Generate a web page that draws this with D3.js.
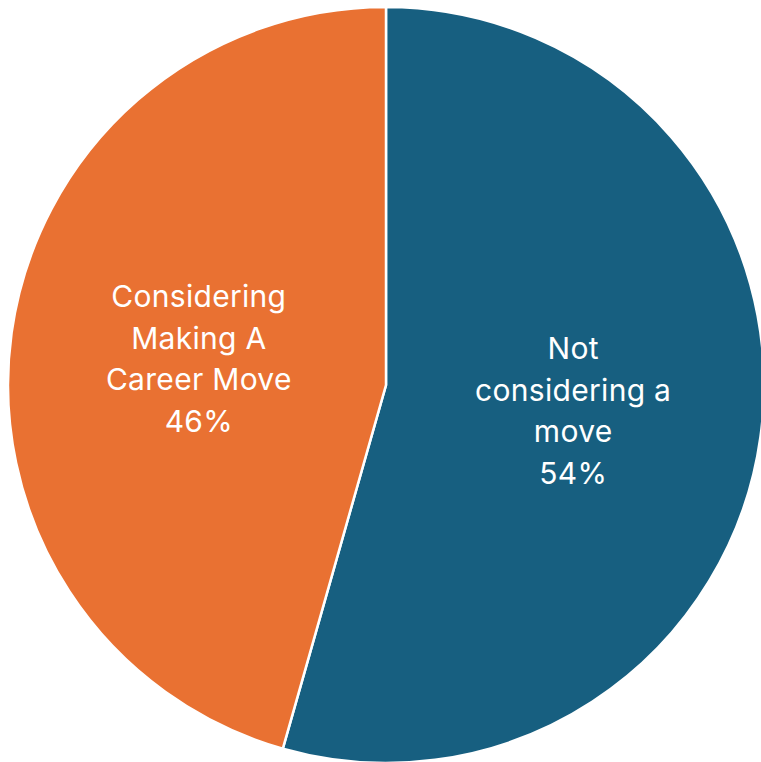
<!DOCTYPE html>
<html>
<head>
<meta charset="utf-8">
<script src="https://cdn.jsdelivr.net/npm/d3@7"></script>
<style>
  html, body { margin: 0; padding: 0; background: #ffffff; }
  svg { display: block; }
</style>
</head>
<body>
<svg id="chart" width="761" height="762"></svg>
<script>
// Data
const categories = ["Not considering a move", "Considering Making A Career Move"];
const labelLines = [["Not", "considering a", "move"], ["Considering", "Making A", "Career Move"]];
const values = [0.544, 0.456];
const colors = ["#175F80", "#E97132"];

const svg = d3.select("#chart");
const cx = 386, cy = 385, r = 378;

const pie = d3.pie().sort(null).value(d => d.value);
const data = categories.map((c, i) => ({ name: c, value: values[i], lines: labelLines[i], color: colors[i] }));
const arcs = pie(data);
const arc = d3.arc().innerRadius(0).outerRadius(r);

const g = svg.append("g").attr("transform", `translate(${cx},${cy})`);

g.selectAll("path.slice")
  .data(arcs)
  .join("path")
  .attr("class", "slice")
  .attr("d", arc)
  .attr("fill", d => d.data.color)
  .attr("stroke", "#ffffff")
  .attr("stroke-width", 2.5)
  .attr("stroke-linejoin", "miter");

const fmt = d3.format(".0%");
const lineH = 41.5;
arcs.forEach(d => {
  const [x, y] = arc.centroid(d);
  const lines = d.data.lines.concat([fmt(d.data.value)]);
  const n = lines.length;
  const t = g.append("text")
    .attr("x", x)
    .attr("y", y)
    .attr("text-anchor", "middle")
    .attr("fill", "#ffffff")
    .style("font-family", "Inter, 'Open Sans', sans-serif")
    .style("font-size", "30px")
    .style("letter-spacing", "0.3px");
  lines.forEach((ln, i) => {
    t.append("tspan")
      .attr("x", x)
      .attr("y", y + (i - (n - 1) / 2) * lineH)
      .attr("dy", "0.35em")
      .text(ln);
  });
});
</script>
</body>
</html>
